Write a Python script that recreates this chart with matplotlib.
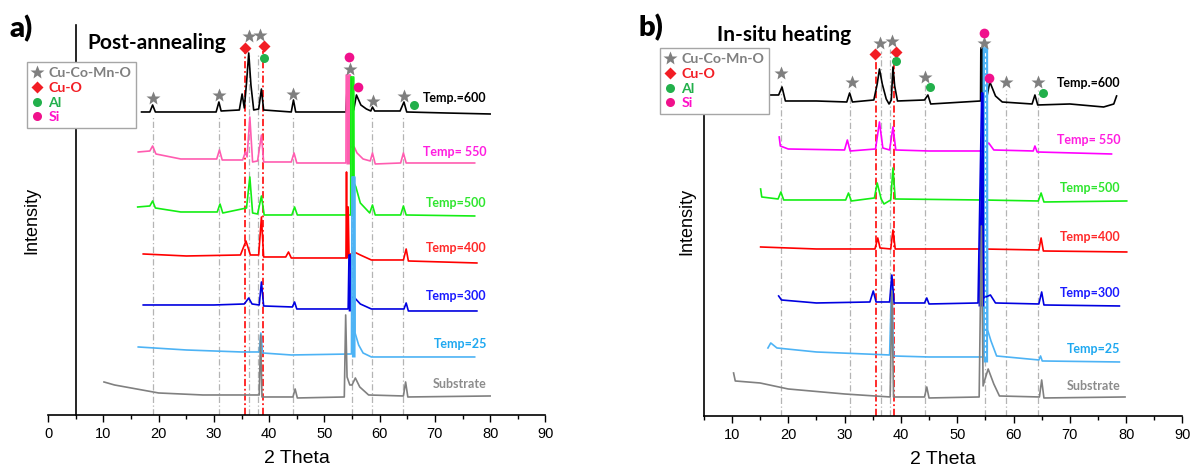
import numpy as np
import matplotlib
matplotlib.use("Agg")
import matplotlib.pyplot as plt
from matplotlib.lines import Line2D
from matplotlib.ticker import MultipleLocator

plt.rcParams['font.family'] = ['Liberation Sans', 'DejaVu Sans']

# ---------------- data, panel a (post-annealing) ----------------
# 2 theta positions and intensities (arb. units, stacked offsets included)
a600_x = [16.9, 18.4, 18.9, 19.4, 30.4, 30.9, 31.3, 34.6, 35.1, 35.5, 35.9, 36.3, 36.7, 37.2,
          38.1, 38.6, 39.0, 44.0, 44.4, 44.8, 53.9, 54.2, 54.8, 55.3, 55.8, 56.6, 57.6, 58.4,
          58.7, 59.1, 63.7, 64.4, 64.9, 72.0, 80.0]
a600_y = [303, 303, 310, 303, 303, 313, 304, 305, 321, 307, 332, 362, 330, 305,
          306, 326, 305, 303, 315, 303, 303, 338, 338, 305, 320, 310, 306, 304,
          308, 304, 304, 313, 303, 302, 301]

a550_x = [16.3, 18.4, 18.9, 19.5, 24.0, 30.5, 31.0, 31.5, 35.2, 35.7, 36.0, 36.5, 37.0, 37.9,
          38.6, 39.0, 44.0, 44.5, 45.0, 53.9, 53.95, 54.7, 54.75, 55.4, 55.9, 57.0, 58.3, 58.7,
          59.2, 63.8, 64.3, 64.8, 77.2]
a550_y = [263, 264, 269, 261, 256, 256, 265, 255, 255, 263, 258, 298, 253, 254,
          280, 253, 253, 262, 252, 252, 340, 340, 268, 268, 262, 256, 254, 262,
          251, 252, 262, 252, 252]

a500_x = [16.2, 18.4, 18.9, 19.4, 24.0, 30.6, 31.1, 31.6, 35.9, 36.5, 37.0, 37.9, 38.6, 39.1,
          44.1, 44.6, 45.1, 54.75, 54.8, 55.3, 55.35, 55.7, 56.5, 58.2, 58.7, 59.2, 63.8, 64.3,
          64.8, 77.2]
a500_y = [208, 209, 214, 207, 203, 203, 211, 202, 207, 238, 202, 201, 219, 200,
          200, 208, 200, 200, 338, 338, 232, 228, 212, 202, 210, 200, 200, 209,
          200, 199]

a400_x = [17.2, 25.0, 34.8, 35.8, 36.6, 38.1, 38.6, 39.0, 43.0, 43.5, 44.0, 53.9, 54.0, 54.1,
          54.2, 54.3, 54.45, 55.4, 56.5, 58.5, 64.3, 64.8, 65.2, 77.6]
a400_y = [161, 159, 160, 174, 160, 160, 198, 158, 158, 163, 157, 157, 243, 157,
          158, 208, 160, 163, 160, 155, 155, 166, 154, 152]

a300_x = [17.2, 30.0, 35.5, 36.3, 36.9, 38.2, 38.6, 39.0, 44.2, 44.6, 45.0, 54.3, 54.45, 54.7,
          54.85, 55.5, 56.5, 58.5, 64.4, 64.8, 65.2, 77.6]
a300_y = [110, 110, 111, 117, 111, 110, 133, 109, 108, 113, 106, 106, 160, 160,
          118, 117, 111, 106, 106, 112, 104, 104]

a25_x = [16.3, 25.0, 35.0, 38.2, 38.5, 38.8, 44.0, 54.9, 55.0, 55.5, 55.55, 56.2, 57.0, 58.5, 77.2]
a25_y = [68, 65, 63, 63, 82, 62, 60, 61, 238, 238, 82, 70, 62, 58, 58]

asub_x = [10.1, 12.0, 15.0, 20.0, 28.0, 38.2, 38.45, 38.7, 44.3, 44.7, 45.1, 53.6, 53.85, 54.1,
          54.6, 55.0, 55.6, 56.4, 58.0, 64.3, 64.7, 65.1, 80.0]
asub_y = [33, 30, 27, 22, 20, 20, 80, 18, 18, 26, 17, 18, 100, 38,
          30, 30, 37, 28, 20, 19, 33, 18, 19]

# phase markers, panel a
a_star_x = [18.9, 30.9, 36.3, 38.3, 44.4, 54.6, 58.8, 64.4]
a_star_y = [317, 320, 379, 380, 321, 346, 314, 319]
a_cuo_x = [35.6, 39.0]
a_cuo_y = [367, 369]
a_al_x = [39.0, 66.3]
a_al_y = [357, 310]
a_si_x = [54.4, 56.0]
a_si_y = [358, 328]
a_ref_x = [18.9, 30.9, 36.3, 37.9, 44.3, 55.0, 58.6, 64.3]
a_ref_top = [298, 298, 360, 360, 298, 338, 298, 298]
a_red_x = [35.6, 38.8]
a_red_top = [362, 364]

# ---------------- data, panel b (in-situ heating) ----------------
b600_x = [16.9, 18.3, 18.9, 19.5, 25.0, 30.4, 30.9, 31.4, 35.2, 35.8, 36.2, 36.7, 37.4, 37.9,
          38.3, 38.6, 38.9, 39.4, 44.2, 44.8, 45.3, 54.15, 54.2, 54.5, 54.55, 55.3, 55.8, 56.8,
          58.0, 63.3, 63.8, 64.3, 70.0, 76.0, 77.8, 78.3]
b600_y = [321, 321, 329, 315, 315, 314, 323, 314, 316, 332, 347, 332, 317, 312,
          316, 349, 330, 315, 316, 321, 312, 315, 368, 368, 320, 320, 334, 320,
          314, 312, 321, 311, 312, 309, 312, 320]

b550_x = [18.4, 18.6, 20.0, 30.0, 30.5, 31.0, 35.5, 36.2, 36.8, 38.0, 38.6, 39.1, 45.0, 54.5,
          55.0, 55.6, 56.5, 63.5, 63.8, 64.2, 77.4]
b550_y = [279, 270, 267, 266, 276, 265, 267, 294, 268, 266, 289, 266, 265, 265,
          270, 273, 266, 265, 270, 264, 262]

b500_x = [15.1, 15.3, 18.2, 18.7, 19.2, 30.2, 30.7, 31.2, 35.3, 35.8, 36.5, 37.0, 38.2, 38.6,
          39.0, 54.1, 54.3, 54.5, 64.4, 64.9, 65.4, 80.1]
b500_y = [227, 219, 217, 224, 216, 216, 223, 215, 218, 233, 217, 212, 216, 248,
          217, 216, 245, 216, 215, 223, 214, 215]

b400_x = [15.1, 25.0, 35.4, 35.9, 36.3, 38.2, 38.6, 39.0, 54.1, 54.3, 54.5, 64.5, 64.9, 65.3, 80.1]
b400_y = [169, 167, 167, 178, 168, 167, 186, 167, 167, 196, 167, 166, 178, 165, 164]

b300_x = [18.3, 18.8, 25.0, 34.5, 35.1, 35.6, 38.0, 38.4, 38.8, 44.2, 44.6, 45.0, 53.7, 54.35,
          54.55, 54.7, 55.9, 56.8, 64.5, 65.0, 65.4, 78.8]
b300_y = [120, 116, 113, 114, 125, 114, 114, 141, 113, 113, 118, 112, 113, 323,
          323, 118, 121, 113, 112, 124, 111, 110]

b25_x = [16.4, 16.9, 18.0, 25.0, 38.0, 38.4, 38.7, 45.0, 54.6, 54.65, 55.35, 55.4, 56.0, 57.0,
         64.5, 64.8, 65.1, 78.8]
b25_y = [68, 73, 68, 64, 61, 140, 60, 59, 59, 368, 368, 86, 75, 60,
         56, 60, 55, 54]

bsub_x = [10.3, 10.6, 15.0, 20.0, 30.0, 38.1, 38.4, 38.7, 44.2, 44.6, 45.0, 53.9, 54.3, 54.6,
          55.0, 55.5, 56.5, 57.5, 64.6, 65.0, 65.4, 79.8]
bsub_y = [43, 35, 33, 27, 22, 19, 125, 19, 19, 29, 18, 19, 190, 30,
          38, 47, 32, 20, 19, 36, 18, 19]

b_star_x = [18.7, 31.3, 36.3, 38.4, 44.2, 54.8, 58.6, 64.3]
b_star_y = [343, 334, 373, 375, 339, 373, 334, 334]
b_cuo_x = [35.4, 39.1]
b_cuo_y = [362, 364]
b_al_x = [39.1, 45.2, 65.3]
b_al_y = [355, 329, 323]
b_si_x = [54.8, 55.7]
b_si_y = [383, 338]
b_ref_x = [18.8, 30.9, 36.4, 38.1, 44.3, 54.9, 58.6, 64.3]
b_ref_top = [335, 326, 365, 367, 331, 365, 326, 326]
b_red_x = [35.5, 38.7]
b_red_top = [356, 358]

labels = ['Temp.=600', 'Temp= 550', 'Temp=500', 'Temp=400', 'Temp=300', 'Temp=25', 'Substrate']
a_label_y = [317, 263, 212, 167, 119, 71, 31]
b_label_y = [333, 276, 228, 179, 123, 67, 30]

GREY_C = '#7f7f7f'
CUO_C = '#f21d24'
AL_C = '#22b04b'
SI_C = '#f0118c'
TXT = ['Lato', 'DejaVu Sans']


def curve(ax, x, y, color, bar=None, lw=1.2):
    x = np.asarray(x)
    y = np.asarray(y)
    ax.plot(x, y, color=color, lw=lw, zorder=3)
    if bar is not None:
        m = (x >= bar[0]) & (x <= bar[1])
        ax.fill_between(x, y, y.min(), where=m, color=color, lw=0, zorder=3)


def markers(ax, sx, sy, dx, dy, ax_, ay, six, siy):
    ax.plot(sx, sy, ls='none', marker='*', ms=10.5, color=GREY_C, mec='none', zorder=5)
    ax.plot(dx, dy, ls='none', marker='D', ms=6.5, color=CUO_C, mec='none', zorder=5)
    ax.plot(ax_, ay, ls='none', marker='o', ms=6.5, color=AL_C, mec='none', zorder=5)
    ax.plot(six, siy, ls='none', marker='o', ms=7, color=SI_C, mec='none', zorder=5)


def refs(ax, gx, gtop, rx, rtop):
    for x, t in zip(gx, gtop):
        ax.plot([x, x], [0, t], color='#b4b4b4', lw=0.9, ls=(0, (5, 2, 1, 2)), zorder=1)
    for x, t in zip(rx, rtop):
        ax.plot([x, x], [0, t], color='#ff1a1a', lw=1.3, ls=(0, (4, 1.5, 1, 1.5)), zorder=2)


def style(ax, xlim):
    ax.set_xlim(*xlim)
    ax.set_ylim(0, 390)
    for s in ['top', 'right']:
        ax.spines[s].set_visible(False)
    ax.set_yticks([])
    ax.xaxis.set_major_locator(MultipleLocator(10))
    ax.xaxis.set_minor_locator(MultipleLocator(5))
    ax.tick_params(axis='x', which='major', length=5, width=1, labelsize=10.5, pad=4)
    ax.tick_params(axis='x', which='minor', length=3, width=1)
    ax.set_xlabel('2 Theta', fontsize=14, labelpad=6)
    ax.spines['bottom'].set_linewidth(1.2)


def legend(ax, x0, y0):
    h = [Line2D([], [], ls='none', marker='*', ms=10, color=GREY_C, mec='none'),
         Line2D([], [], ls='none', marker='D', ms=6, color=CUO_C, mec='none'),
         Line2D([], [], ls='none', marker='o', ms=6.5, color=AL_C, mec='none'),
         Line2D([], [], ls='none', marker='o', ms=6.5, color=SI_C, mec='none')]
    leg = ax.legend(h, ['Cu-Co-Mn-O', 'Cu-O', 'Al', 'Si'], loc='upper left',
                    bbox_to_anchor=(x0, y0), bbox_transform=ax.figure.transFigure,
                    labelcolor=[GREY_C, CUO_C, AL_C, '#ff10c8'],
                    prop={'family': TXT, 'weight': 'bold', 'size': 10.2},
                    frameon=True, fancybox=False, framealpha=1, edgecolor='#a6a6a6',
                    borderpad=0.35, labelspacing=0.2, handlelength=0.7,
                    handletextpad=0.45, borderaxespad=0)
    leg.get_frame().set_linewidth(1.0)
    leg.set_zorder(10)


fig = plt.figure(figsize=(11.96, 4.76), dpi=100)
axa = fig.add_axes([0.0403, 0.1282, 0.4157, 0.8193])
axb = fig.add_axes([0.5884, 0.1261, 0.4003, 0.8193])

# ---- panel a ----
style(axa, (0, 90))
axa.spines['left'].set_visible(False)
axa.plot([5, 5], [0, 390], color='black', lw=1.2, zorder=2, clip_on=False)
refs(axa, a_ref_x, a_ref_top, a_red_x, a_red_top)
curve(axa, a600_x, a600_y, 'black')
curve(axa, a550_x, a550_y, '#ff5cb0', bar=(53.9, 54.75))
curve(axa, a500_x, a500_y, '#14ee14', bar=(54.75, 55.35))
curve(axa, a400_x, a400_y, '#ff0000')
curve(axa, a300_x, a300_y, '#0000e0', bar=(54.3, 54.85))
curve(axa, a25_x, a25_y, '#4db3f5', bar=(54.9, 55.55))
curve(axa, asub_x, asub_y, '#808080')
markers(axa, a_star_x, a_star_y, a_cuo_x, a_cuo_y, a_al_x, a_al_y, a_si_x, a_si_y)
a_cols = ['black', '#ff1ee0', '#2fe62f', '#ff2a2a', '#1a1aff', '#1ea8f0', '#8c8c8c']
for t, yy, c in zip(labels, a_label_y, a_cols):
    axa.text(79.4, yy, t, ha='right', va='center', color=c, fontsize=9,
             fontweight='bold', family=TXT, zorder=6)
axa.set_ylabel('Intensity', fontsize=13, labelpad=4)
axa.yaxis.set_label_coords(-0.016, 0.5)
legend(axa, 27 / 1196, 1 - 62 / 476)
fig.text(9 / 1196, 1 - 29 / 476, 'a)', fontsize=21, fontweight='heavy', family=TXT, va='center')
fig.text(87 / 1196, 1 - 43 / 476, 'Post-annealing', fontsize=15, fontweight='bold',
         family=TXT, va='center')

# ---- panel b ----
style(axb, (5, 90))
axb.spines['left'].set_bounds(0, 330)
axb.spines['left'].set_linewidth(1.2)
refs(axb, b_ref_x, b_ref_top, b_red_x, b_red_top)
curve(axb, b600_x, b600_y, 'black', bar=(54.15, 54.55))
curve(axb, b550_x, b550_y, '#ff00ff')
curve(axb, b500_x, b500_y, '#14ee14')
curve(axb, b400_x, b400_y, '#ff0000')
curve(axb, b25_x, b25_y, '#4db3f5', bar=(54.6, 55.4))
curve(axb, b300_x, b300_y, '#0000e0', bar=(53.7, 54.7))
curve(axb, bsub_x, bsub_y, '#808080')
axb.plot([55.0, 55.0], [60, 365], color='white', lw=0.8, ls=(0, (3, 2)), zorder=4)
markers(axb, b_star_x, b_star_y, b_cuo_x, b_cuo_y, b_al_x, b_al_y, b_si_x, b_si_y)
b_cols = ['black', '#ff1ee0', '#2fe62f', '#ff2a2a', '#1a1aff', '#1ea8f0', '#8c8c8c']
for t, yy, c in zip(labels, b_label_y, b_cols):
    axb.text(79.0, yy, t, ha='right', va='center', color=c, fontsize=9,
             fontweight='bold', family=TXT, zorder=6)
axb.set_ylabel('Intensity', fontsize=13, labelpad=4)
axb.yaxis.set_label_coords(-0.018, 0.5)
legend(axb, 660 / 1196, 1 - 48 / 476)
fig.text(639 / 1196, 1 - 28 / 476, 'b)', fontsize=21, fontweight='heavy', family=TXT, va='center')
fig.text(717 / 1196, 1 - 35 / 476, 'In-situ heating', fontsize=15, fontweight='bold',
         family=TXT, va='center')

fig.savefig('out.png', dpi=100)
